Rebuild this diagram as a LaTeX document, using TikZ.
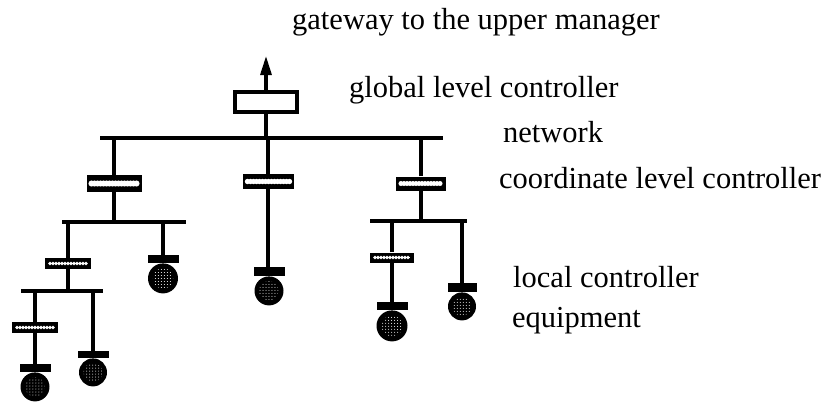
\documentclass[tikz,border=0pt]{standalone}
\usepackage{fontspec}
\setmainfont{Liberation Serif}
\usetikzlibrary{arrows.meta,patterns}

\tikzset{
  wire/.style={line width=3.1bp},
  bus/.style={line width=3.1bp},
  globbox/.style={draw, line width=3.8bp, fill=white, inner sep=0pt,
    minimum width=62bp, minimum height=20bp},
  % black controller plate with a white scalloped strip in the middle
  ctrlbox/.style 2 args={fill=black, inner sep=0pt,
    minimum width=#1bp, minimum height=#2bp,
    path picture={
      \draw[white, line width=0.18*#2bp]
        ([xshift=5bp]path picture bounding box.west) --
        ([xshift=-4bp]path picture bounding box.east);
      \draw[white, line width=0.36*#2bp, line cap=round,
          dash pattern=on 0bp off 3bp]
        ([xshift=5bp]path picture bounding box.west) --
        ([xshift=-4bp]path picture bounding box.east);}},
  capbar/.style 2 args={fill=black, inner sep=0pt,
    minimum width=#1bp, minimum height=#2bp},
  % equipment: black disc with a stippled core
  ball/.style={circle, fill=black, inner sep=0pt, minimum size=#1bp,
    path picture={\fill[pattern=dots, pattern color=white]
      (path picture bounding box.center) circle (0.34*#1);}},
  lbl/.style={anchor=base west, inner sep=0pt,
    font=\fontsize{30.5bp}{36bp}\selectfont},
}

\begin{document}
\begin{tikzpicture}[x=1bp, y=-1bp]
\useasboundingbox (0,0) rectangle (834,401);

% ---- global level ----
\node[globbox] (glob) at (266,102) {};
\coordinate (gw) at (266,56);
\draw[wire, -{Triangle[length=19bp, width=11bp]}] (glob.north) -- (gw);

% ---- network ----
\coordinate (n0w) at (100,138);
\coordinate (n0e) at (443,138);
\draw[bus] (n0w) -- (n0e);
\draw[wire] (glob.south) -- (glob.south |- n0w);

% ---- coordinate level controllers ----
\node[ctrlbox={55}{17}] (cL) at (114,183.5) {};
\node[ctrlbox={51}{15}] (cM) at (268,181.5) {};
\node[ctrlbox={50}{14}] (cR) at (421,183.5) {};
\foreach \c in {cL,cM,cR}
  \draw[wire] (\c.north) -- (\c.north |- n0w);

% ---- left branch ----
\coordinate (b1w) at (62,222);
\coordinate (b1e) at (186,222);
\draw[bus] (b1w) -- (b1e);
\draw[wire] (cL.south) -- (cL.south |- b1w);

\node[ctrlbox={46}{11}] (lA) at (68,263.5) {};
\draw[wire] (lA.north) -- (lA.north |- b1w);

\node[capbar={31}{8}] (kA) at (163,259) {};
\node[ball=30, anchor=north] (eA) at (kA.south) {};
\draw[wire] (kA.north) -- (kA.north |- b1w);

\coordinate (b2w) at (21,291);
\coordinate (b2e) at (103,291);
\draw[bus] (b2w) -- (b2e);
\draw[wire] (lA.south) -- (lA.south |- b2w);

\node[ctrlbox={46}{11}] (lB) at (35,327.5) {};
\draw[wire] (lB.north) -- (lB.north |- b2w);
\node[capbar={31}{8}] (kB) at (35,368) {};
\node[ball=29, anchor=north] (eB) at (kB.south) {};
\draw[wire] (lB.south) -- (kB.north);

\node[capbar={31}{7}] (kC) at (93,354.5) {};
\node[ball=28, anchor=north] (eC) at (kC.south) {};
\draw[wire] (kC.north) -- (kC.north |- b2w);

% ---- middle branch ----
\node[capbar={31}{9}] (kM) at (269,271.5) {};
\node[ball=29, anchor=north] (eM) at (kM.south) {};
\draw[wire] (cM.south) -- (cM.south |- kM.north);

% ---- right branch ----
\coordinate (b3w) at (370,221);
\coordinate (b3e) at (467,221);
\draw[bus] (b3w) -- (b3e);
\draw[wire] (cR.south) -- (cR.south |- b3w);

\node[ctrlbox={44}{10}] (lC) at (392,257.5) {};
\draw[wire] (lC.north) -- (lC.north |- b3w);
\node[capbar={31}{8}] (kD) at (392,306) {};
\node[ball=31, anchor=north] (eD) at (kD.south) {};
\draw[wire] (lC.south) -- (kD.north);

\node[capbar={29}{9}] (kE) at (462,287.5) {};
\node[ball=28, anchor=north] (eE) at (kE.south) {};
\draw[wire] (kE.north) -- (kE.north |- b3w);

% ---- labels ----
\node[lbl] (tGw)  at (292,29)  {gateway to the upper manager};
\node[lbl] (tGlc) at (349,97)  {global level controller};
\node[lbl] (tNet) at (503,142) {network};
\node[lbl] (tClc) at (499,188) {coordinate level controller};
\node[lbl] (tLc)  at (513,287) {local controller};
\node[lbl] (tEq)  at (512,327) {equipment};
\end{tikzpicture}
\end{document}
